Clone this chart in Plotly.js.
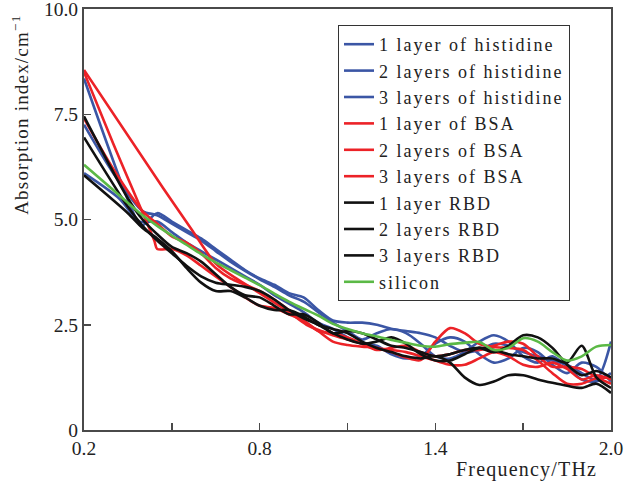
<!DOCTYPE html>
<html>
<head>
<meta charset="utf-8">
<script src="https://cdn.plot.ly/plotly-3.0.1.min.js"></script>
<style>
html,body{margin:0;padding:0;background:#fff;}
#chart{width:625px;height:486px;}
text.legendtext{letter-spacing:2px;}
text.annotation-text{letter-spacing:1.2px;}
</style>
</head>
<body>
<div id="chart"></div>
<script>
// Shared smooth-part x grid (THz)
const xGrid = [0.45,0.5,0.55,0.6,0.65,0.7,0.75,0.8,0.85,0.9,0.95,1.0,1.05,1.1,1.15,1.2,1.25,1.3,1.35,1.4,1.45,1.5,1.55,1.6,1.65,1.7,1.75,1.8,1.85,1.9,1.95,2.0];

// Series names
const seriesNames = ["1 layer of histidine","2 layers of histidine","3 layers of histidine",
  "1 layer of BSA","2 layers of BSA","3 layers of BSA",
  "1 layer RBD","2 layers RBD","3 layers RBD","silicon"];

// Histidine
const his1X = [0.2,0.36,0.395];
const his1Y = [8.35,5.3,4.85, 5.15,4.95,4.75,4.55,4.3,4.05,3.8,3.6,3.45,3.25,3.15,2.85,2.6,2.55,2.55,2.5,2.4,2.35,2.3,2.2,2.0,1.85,1.9,2.05,2.0,1.85,1.75,1.65,1.55,1.35,1.2,2.1];
const his2X = [0.2,0.3,0.4];
const his2Y = [7.25,6.1,5.2, 5.1,4.9,4.7,4.5,4.25,4.0,3.78,3.58,3.4,3.2,3.05,2.8,2.55,2.35,2.15,2.3,2.4,2.3,2.05,1.75,1.7,1.85,2.1,2.25,2.1,1.75,1.6,1.75,1.5,1.2,1.15,1.35];
const his3X = [0.2,0.32,0.39];
const his3Y = [6.1,5.5,4.95, 4.95,4.7,4.45,4.25,4.05,3.85,3.65,3.45,3.2,3.0,2.8,2.55,2.4,2.2,2.05,2.0,1.8,1.7,1.75,2.05,2.2,2.1,1.8,1.6,1.7,1.95,1.85,1.55,1.35,1.6,1.5,1.15];

// BSA
const bsa1X = [0.2,0.47,0.57,0.65,0.72,0.8,0.9,0.96,1.05,1.1,1.15,1.2,1.25,1.3,1.35,1.4,1.45,1.5,1.55,1.6,1.65,1.7,1.75,1.8,1.85,1.9,1.95,2.0];
const bsa1Y = [8.55,5.75,4.74,3.95,3.6,3.25,2.8,2.5,2.25,2.15,2.05,1.95,1.9,1.85,1.75,1.65,1.55,1.55,1.7,1.85,1.75,1.55,1.5,1.6,1.45,1.2,1.3,1.2];
const bsa2X = [0.2,0.3,0.44];
const bsa2Y = [8.5,6.8,4.5, 4.3,4.3,4.15,3.9,3.65,3.4,3.15,2.95,2.9,2.75,2.6,2.35,2.1,2.02,1.98,1.95,1.85,1.72,1.66,2.1,2.42,2.3,2.05,1.97,1.95,1.9,1.65,1.35,1.1,1.1,1.23,1.25];
const bsa3X = [0.2,0.3,0.4];
const bsa3Y = [7.4,6.2,5.2, 4.9,4.6,4.45,4.2,3.85,3.6,3.45,3.3,3.1,2.85,2.6,2.35,2.3,2.2,2.05,1.9,1.95,2.0,1.85,1.75,1.8,1.9,1.9,2.0,2.1,2.05,1.75,1.5,1.5,1.45,1.25,1.1];

// RBD
const rbd1X = [0.2,0.35,0.4];
const rbd1Y = [7.45,5.5,5.0, 4.65,4.35,4.2,4.0,3.7,3.4,3.2,3.15,2.95,2.75,2.75,2.55,2.3,2.35,2.3,2.15,2.0,1.95,1.85,1.75,1.8,1.9,1.95,1.85,2.0,2.25,2.2,1.95,1.55,1.3,1.4,1.25];
const rbd2X = [0.2,0.35,0.4];
const rbd2Y = [6.95,5.3,4.85, 4.5,4.2,3.9,3.65,3.5,3.45,3.4,3.3,3.1,2.85,2.65,2.5,2.3,2.15,2.05,2.1,2.2,2.05,1.8,1.65,1.65,1.8,1.95,1.9,1.8,1.75,1.7,1.7,1.6,2.0,1.25,1.0];
const rbd3X = [0.2,0.35,0.4];
const rbd3Y = [6.05,5.15,4.8, 4.55,4.25,3.85,3.5,3.3,3.3,3.15,2.95,2.85,2.85,2.7,2.5,2.4,2.3,2.1,1.95,1.85,1.75,1.7,1.75,1.6,1.25,1.07,1.15,1.3,1.3,1.2,1.12,1.05,1.0,1.1,0.88];

// Silicon
const silX = [0.2,0.3,0.4];
const silY = [6.3,5.7,5.1, 4.85,4.62,4.4,4.18,3.98,3.8,3.62,3.44,3.24,3.05,2.88,2.72,2.52,2.4,2.3,2.22,2.14,2.07,2.0,1.98,2.04,2.07,2.09,1.9,1.95,2.18,2.1,1.85,1.65,1.75,1.98,2.02];

const seriesX = [his1X,his2X,his3X,bsa1X,bsa2X,bsa3X,rbd1X,rbd2X,rbd3X,silX];
const seriesY = [his1Y,his2Y,his3Y,bsa1Y,bsa2Y,bsa3Y,rbd1Y,rbd2Y,rbd3Y,silY];
const seriesColors = ["#3b56a5","#3b56a5","#3b56a5","#ec2227","#ec2227","#ec2227","#111111","#111111","#111111","#5bb946"];

const xTickVals = [0.2,0.8,1.4,2.0];
const xTickText = ["0.2","0.8","1.4","2.0"];
const yTickVals = [0,2.5,5,7.5,10];
const yTickText = ["0","2.5","5.0","7.5","10.0"];

const traces = seriesNames.map((name,i) => {
  const xs = seriesX[i];
  const full = xs.length === seriesY[i].length ? xs : xs.concat(xGrid);
  return {
    x: full, y: seriesY[i], name: name, type: 'scatter', mode: 'lines',
    line: {color: seriesColors[i], width: 2.6, shape: 'spline', smoothing: 0.8}
  };
});

const axisCommon = {
  showgrid: false, zeroline: false, showline: true, linecolor: '#4a4a4a', linewidth: 2,
  mirror: true, ticks: 'inside', ticklen: 7, tickwidth: 1.5, tickcolor: '#4a4a4a',
  ticklabeloverflow: 'allow',
  tickfont: {family: 'Liberation Serif, serif', size: 19.5, color: '#222'}
};

const layout = {
  width: 625, height: 486,
  margin: {l: 84, r: 14, t: 9, b: 56},
  paper_bgcolor: '#fff', plot_bgcolor: '#fff',
  showlegend: true,
  legend: {x: 0.482, y: 0.962, xanchor: 'left', yanchor: 'top',
    bgcolor: '#fff', bordercolor: '#333', borderwidth: 1,
    font: {family: 'Liberation Serif, serif', size: 18, color: '#222'}},
  xaxis: Object.assign({}, axisCommon, {range: [0.2, 2.0], tickvals: xTickVals, ticktext: xTickText,
    minor: {ticks: 'inside', ticklen: 7, tickwidth: 1.5, tickcolor: '#4a4a4a', tick0: 0.2, dtick: 0.3}}),
  yaxis: Object.assign({}, axisCommon, {range: [0, 10], tickvals: yTickVals, ticktext: yTickText}),
  annotations: [
    {text: 'Absorption index/cm<sup>−1</sup>', xref: 'paper', yref: 'paper', x: -0.122, y: 0.748,
     xanchor: 'center', yanchor: 'middle', textangle: -90, showarrow: false,
     font: {family: 'Liberation Serif, serif', size: 19, color: '#222'}},
    {text: 'Frequency/THz', xref: 'paper', yref: 'paper', x: 0.84, y: -0.094,
     xanchor: 'center', yanchor: 'middle', showarrow: false,
     font: {family: 'Liberation Serif, serif', size: 20, color: '#222'}}
  ]
};

Plotly.newPlot('chart', traces, layout, {staticPlot: true, displayModeBar: false});
</script>
</body>
</html>
